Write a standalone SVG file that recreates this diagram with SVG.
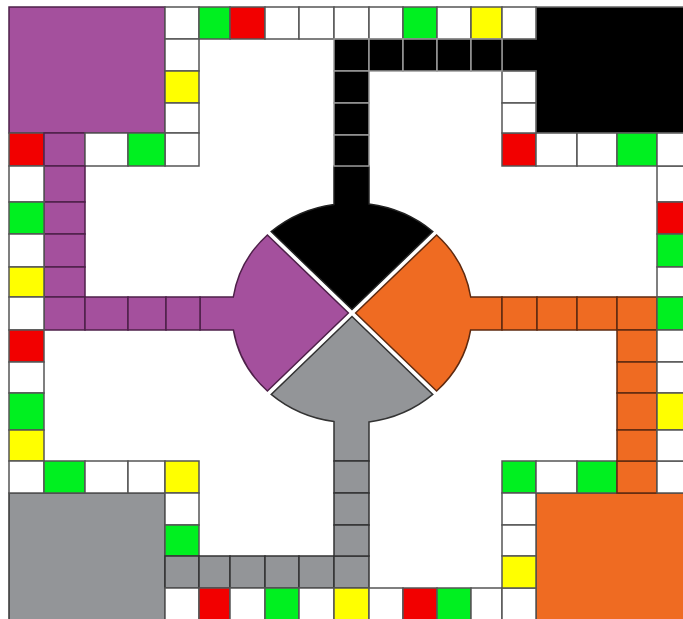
<svg xmlns="http://www.w3.org/2000/svg" width="683" height="619" viewBox="0 0 683 619">
<style>
rect,path{stroke-width:1.5;stroke-linejoin:miter}
.w{fill:#fff;stroke:#555}
.g{fill:#00F020;stroke:#555}
.r{fill:#F20000;stroke:#555}
.y{fill:#FFFF00;stroke:#555}
.p{fill:#A4509D;stroke:#4E2049}
.o{fill:#EF6B22;stroke:#5E2A10}
.k{fill:#000;stroke:#999}
.s{fill:#939598;stroke:#333}
</style>
<rect x="0" y="0" width="683" height="619" fill="#fff" stroke="none"/>
<g id="center">
<path id="wedge-black" d="M352,309.5 L271.2,231.6 A120,110 0 0,1 334,204.4 L334,166 L369,166 L369,204.1 A120,110 0 0,1 432.8,231.6 Z" fill="#000" stroke="#222"/>
<path id="wedge-gray" d="M352,316.5 L432.8,394.4 A120,110 0 0,1 369,421.9 L369,461 L334,461 L334,421.6 A120,110 0 0,1 271.2,394.4 Z" class="s"/>
<path id="wedge-purple" d="M348.4,313 L267.4,391 A120,110 0 0,1 233.4,330 L200,330 L200,297 L233.3,297 A120,110 0 0,1 267.4,235 Z" class="p"/>
<path id="wedge-orange" d="M355.6,313 L436.6,235 A120,110 0 0,1 470.7,297 L502,297 L502,330 L470.6,330 A120,110 0 0,1 436.6,391 Z" class="o"/>
</g>
<g id="homes">
<rect id="home-purple" x="9" y="7" width="156" height="126" class="p"/>
<path id="home-black" d="M502,39 H536 V7 H690 V133 H536 V71 H502 Z" fill="#000" stroke="#666"/>
<rect id="home-gray" x="9" y="493" width="156" height="135" class="s"/>
<rect id="home-orange" x="536" y="493" width="154" height="135" class="o"/>
</g>
<g id="track">
<!-- top row -->
<rect x="165" y="7" width="34" height="32" class="w"/>
<rect x="199" y="7" width="31" height="32" class="g"/>
<rect x="230" y="7" width="35" height="32" class="r"/>
<rect x="265" y="7" width="34" height="32" class="w"/>
<rect x="299" y="7" width="35" height="32" class="w"/>
<rect x="334" y="7" width="35" height="32" class="w"/>
<rect x="369" y="7" width="34" height="32" class="w"/>
<rect x="403" y="7" width="34" height="32" class="g"/>
<rect x="437" y="7" width="34" height="32" class="w"/>
<rect x="471" y="7" width="31" height="32" class="y"/>
<rect x="502" y="7" width="34" height="32" class="w"/>
<!-- column beside purple home -->
<rect x="165" y="39" width="34" height="32" class="w"/>
<rect x="165" y="71" width="34" height="32" class="y"/>
<rect x="165" y="103" width="34" height="30" class="w"/>
<rect x="165" y="133" width="34" height="33" class="w"/>
<!-- row under purple home -->
<rect x="9" y="133" width="35" height="33" class="r"/>
<rect x="44" y="133" width="41" height="33" class="p"/>
<rect x="85" y="133" width="43" height="33" class="w"/>
<rect x="128" y="133" width="37" height="33" class="g"/>
<!-- purple home path -->
<rect x="44" y="166" width="41" height="36" class="p"/>
<rect x="44" y="202" width="41" height="32" class="p"/>
<rect x="44" y="234" width="41" height="33" class="p"/>
<rect x="44" y="267" width="41" height="30" class="p"/>
<rect x="44" y="297" width="41" height="33" class="p"/>
<rect x="85" y="297" width="43" height="33" class="p"/>
<rect x="128" y="297" width="38" height="33" class="p"/>
<rect x="166" y="297" width="34" height="33" class="p"/>
<!-- left column -->
<rect x="9" y="166" width="35" height="36" class="w"/>
<rect x="9" y="202" width="35" height="32" class="g"/>
<rect x="9" y="234" width="35" height="33" class="w"/>
<rect x="9" y="267" width="35" height="30" class="y"/>
<rect x="9" y="297" width="35" height="33" class="w"/>
<rect x="9" y="330" width="35" height="32" class="r"/>
<rect x="9" y="362" width="35" height="31" class="w"/>
<rect x="9" y="393" width="35" height="37" class="g"/>
<rect x="9" y="430" width="35" height="31" class="y"/>
<rect x="9" y="461" width="35" height="32" class="w"/>
<!-- row above gray home -->
<rect x="44" y="461" width="41" height="32" class="g"/>
<rect x="85" y="461" width="43" height="32" class="w"/>
<rect x="128" y="461" width="37" height="32" class="w"/>
<rect x="165" y="461" width="34" height="32" class="y"/>
<!-- column beside gray home -->
<rect x="165" y="493" width="34" height="32" class="w"/>
<rect x="165" y="525" width="34" height="31" class="g"/>
<rect x="165" y="556" width="34" height="32" class="s"/>
<rect x="165" y="588" width="34" height="40" class="w"/>
<!-- gray home path -->
<rect x="199" y="556" width="31" height="32" class="s"/>
<rect x="230" y="556" width="35" height="32" class="s"/>
<rect x="265" y="556" width="34" height="32" class="s"/>
<rect x="299" y="556" width="35" height="32" class="s"/>
<rect x="334" y="556" width="35" height="32" class="s"/>
<rect x="334" y="461" width="35" height="32" class="s"/>
<rect x="334" y="493" width="35" height="32" class="s"/>
<rect x="334" y="525" width="35" height="31" class="s"/>
<!-- bottom row -->
<rect x="199" y="588" width="31" height="40" class="r"/>
<rect x="230" y="588" width="35" height="40" class="w"/>
<rect x="265" y="588" width="34" height="40" class="g"/>
<rect x="299" y="588" width="35" height="40" class="w"/>
<rect x="334" y="588" width="35" height="40" class="y"/>
<rect x="369" y="588" width="34" height="40" class="w"/>
<rect x="403" y="588" width="34" height="40" class="r"/>
<rect x="437" y="588" width="34" height="40" class="g"/>
<rect x="471" y="588" width="31" height="40" class="w"/>
<rect x="502" y="588" width="34" height="40" class="w"/>
<!-- column beside orange home -->
<rect x="502" y="461" width="34" height="32" class="g"/>
<rect x="502" y="493" width="34" height="32" class="w"/>
<rect x="502" y="525" width="34" height="31" class="w"/>
<rect x="502" y="556" width="34" height="32" class="y"/>
<!-- row above orange home -->
<rect x="536" y="461" width="41" height="32" class="w"/>
<rect x="577" y="461" width="40" height="32" class="g"/>
<rect x="617" y="461" width="40" height="32" class="o"/>
<rect x="657" y="461" width="40" height="32" class="w"/>
<!-- orange home path -->
<rect x="502" y="297" width="35" height="33" class="o"/>
<rect x="537" y="297" width="40" height="33" class="o"/>
<rect x="577" y="297" width="40" height="33" class="o"/>
<rect x="617" y="297" width="40" height="33" class="o"/>
<rect x="617" y="330" width="40" height="32" class="o"/>
<rect x="617" y="362" width="40" height="31" class="o"/>
<rect x="617" y="393" width="40" height="37" class="o"/>
<rect x="617" y="430" width="40" height="31" class="o"/>
<!-- right column -->
<rect x="657" y="166" width="40" height="36" class="w"/>
<rect x="657" y="202" width="40" height="32" class="r"/>
<rect x="657" y="234" width="40" height="33" class="g"/>
<rect x="657" y="267" width="40" height="30" class="w"/>
<rect x="657" y="297" width="40" height="33" class="g"/>
<rect x="657" y="330" width="40" height="32" class="w"/>
<rect x="657" y="362" width="40" height="31" class="w"/>
<rect x="657" y="393" width="40" height="37" class="y"/>
<rect x="657" y="430" width="40" height="31" class="w"/>
<!-- row under black home -->
<rect x="502" y="133" width="34" height="33" class="r"/>
<rect x="536" y="133" width="41" height="33" class="w"/>
<rect x="577" y="133" width="40" height="33" class="w"/>
<rect x="617" y="133" width="40" height="33" class="g"/>
<rect x="657" y="133" width="40" height="33" class="w"/>
<!-- column beside black home -->
<rect x="502" y="71" width="34" height="32" class="w"/>
<rect x="502" y="103" width="34" height="30" class="w"/>
<!-- black home path -->
<rect x="334" y="39" width="35" height="32" class="k"/>
<rect x="369" y="39" width="34" height="32" class="k"/>
<rect x="403" y="39" width="34" height="32" class="k"/>
<rect x="437" y="39" width="34" height="32" class="k"/>
<rect x="471" y="39" width="31" height="32" class="k"/>
<rect x="334" y="71" width="35" height="32" class="k"/>
<rect x="334" y="103" width="35" height="32" class="k"/>
<rect x="334" y="135" width="35" height="31" class="k"/>
</g>
</svg>
